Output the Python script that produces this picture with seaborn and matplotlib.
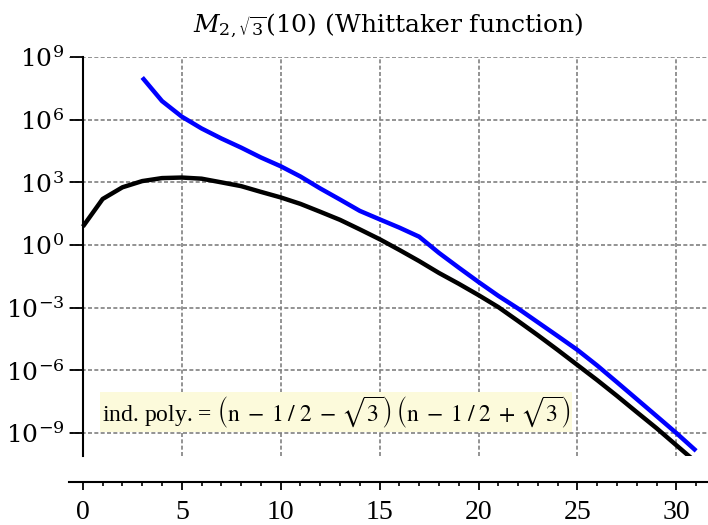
import matplotlib
matplotlib.use("Agg")
import matplotlib.pyplot as plt
import pandas as pd
import seaborn as sns
from matplotlib.ticker import MultipleLocator, NullLocator

# Values (log scale)
n_terms = list(range(0, 32))
term_size = [7.6, 1.6e2, 5.8e2, 1.15e3, 1.6e3, 1.7e3, 1.5e3, 1.0e3, 6.6e2, 3.5e2,
             1.9e2, 9.3e1, 3.9e1, 1.6e1, 5.6, 1.9, 5.8e-1, 1.7e-1, 4.6e-2, 1.4e-2,
             4.0e-3, 1.07e-3, 2.3e-4, 4.8e-5, 9.5e-6, 1.8e-6, 3.4e-7, 6.0e-8, 1.0e-8,
             1.7e-9, 2.6e-10, 4.0e-11]

n_bound = list(range(3, 32))
bound = [1.05e8, 7.8e6, 1.4e6, 3.8e5, 1.26e5, 4.6e4, 1.55e4, 5.9e3, 1.9e3, 5.1e2,
         1.5e2, 4.3e1, 1.7e1, 6.8, 2.5, 4.2e-1, 8.3e-2, 1.7e-2, 3.7e-3, 9.1e-4,
         2.0e-4, 4.4e-5, 9.5e-6, 1.7e-6, 2.7e-7, 4.2e-8, 6.5e-9, 1.0e-9, 1.4e-10]

ytick_vals = [1e9, 1e6, 1e3, 1e0, 1e-3, 1e-6, 1e-9]
ytick_labels = [r"$10^{9}$", r"$10^{6}$", r"$10^{3}$", r"$10^{0}$",
                r"$10^{-3}$", r"$10^{-6}$", r"$10^{-9}$"]
xtick_vals = [0, 5, 10, 15, 20, 25, 30]

title = r"$M_{2,\sqrt{3}}(10)$ (Whittaker function)"
note = (r"ind. poly. = $\left(\mathrm{n}\;-\;1\;/\;2\;-\,\sqrt{3}\right)\;"
        r"\left(\mathrm{n}\;-\;1\;/\;2\;+\,\sqrt{3}\right)$")

sns.set_style("white")
plt.rcParams['font.family'] = 'serif'
plt.rcParams['font.serif'] = ['Liberation Serif', 'DejaVu Serif']
plt.rcParams['mathtext.fontset'] = 'dejavuserif'
plt.rcParams['text.color'] = 'black'
plt.rcParams['xtick.color'] = 'black'
plt.rcParams['ytick.color'] = 'black'

df_terms = pd.DataFrame({"n": n_terms, "value": term_size})
df_bound = pd.DataFrame({"n": n_bound, "value": bound})

fig = plt.figure(figsize=(7.08, 5.25), dpi=100)
ax = fig.add_axes([0.0975, 0.1314, 0.9025, 0.76])

sns.lineplot(data=df_terms, x="n", y="value", color="black", linewidth=3.2,
             solid_capstyle="butt", ax=ax)
sns.lineplot(data=df_bound, x="n", y="value", color="blue", linewidth=3.2,
             solid_capstyle="butt", ax=ax)

ax.set_yscale("log")
ax.set_xlim(-0.7, 31.6)
ax.set_ylim(10 ** -10.1, 1e9)
ax.set_xlabel("")
ax.set_ylabel("")

# axes like the original: y axis through x=0, x axis pushed below
ax.spines['top'].set_visible(False)
ax.spines['right'].set_visible(False)
ax.spines['left'].set_position(('data', 0))
ax.spines['bottom'].set_position(('outward', 19))
for s in ['left', 'bottom']:
    ax.spines[s].set_linewidth(1.5)
    ax.spines[s].set_color('black')

ax.set_yticks(ytick_vals, labels=ytick_labels)
ax.yaxis.set_minor_locator(NullLocator())
ax.set_xticks(xtick_vals, labels=[str(v) for v in xtick_vals])
ax.xaxis.set_minor_locator(MultipleLocator(1))

ax.tick_params(axis='y', which='major', length=9.4, width=1.3, direction='out',
               pad=4, left=True, labelsize=18, labelfontfamily='DejaVu Serif')
ax.tick_params(axis='x', which='major', length=5.8, width=1.3, direction='out',
               pad=7, bottom=True, labelsize=20, labelfontfamily='Liberation Serif')
ax.tick_params(axis='x', which='minor', length=3.2, width=1.2, direction='out', bottom=True)

ax.set_axisbelow(True)
ax.grid(True, which='major', color='#808080', linestyle=(0, (2.4, 1.4)), linewidth=1.2)

ax.set_title(title, fontsize=18, pad=18, fontfamily='DejaVu Serif')

ax.text(0.95, 1e-8, note, fontsize=17, ha='left', va='center', math_fontfamily='stix',
        bbox=dict(facecolor='#fcfadb', edgecolor='none', pad=1.5))

fig.savefig("out.png", dpi=100)
